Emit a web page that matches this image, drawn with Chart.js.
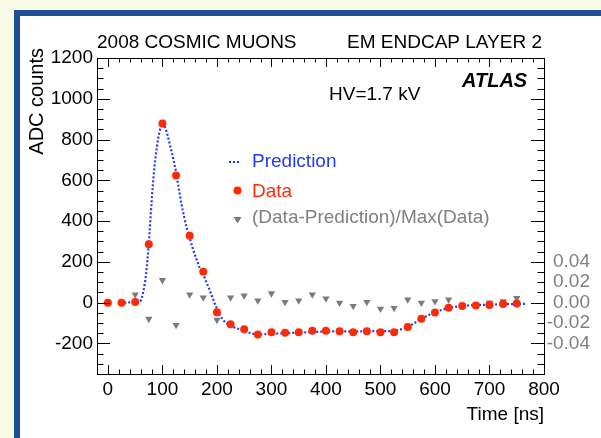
<!DOCTYPE html>
<html>
<head>
<meta charset="utf-8">
<script src="https://cdn.jsdelivr.net/npm/chart.js@4/dist/chart.umd.min.js"></script>
<style>
  html, body { margin: 0; padding: 0; width: 601px; height: 438px; overflow: hidden; background: #fafbe6; }
  #frame { position: absolute; left: 14px; top: 10px; width: 640px; height: 480px; border: 6px solid #1f4e98; background: #fff; }
  #c { position: absolute; left: 0; top: 0; }
</style>
</head>
<body>
<div id="frame"></div>
<canvas id="c" width="601" height="438"></canvas>
<script>
// measured points, every 25 ns
const dataTime = [0, 25, 50, 75, 100, 125, 150, 175, 200, 225, 250, 275, 300, 325, 350, 375,
                  400, 425, 450, 475, 500, 525, 550, 575, 600, 625, 650, 675, 700, 725, 750];
const dataAdc = [0, 0, 3, 287, 879, 624, 328, 151, -47, -106, -131, -156, -145, -148, -145, -138,
                 -138, -140, -145, -140, -145, -145, -119, -79, -48, -25, -17, -14, -11, -7, -4];
// (Data-Prediction)/Max(Data), right axis
const residual = [null, null, 0.008, -0.016, 0.022, -0.022, 0.008, 0.005, -0.017, 0.005, 0.007, 0.002, 0.009, 0.0005, 0.002, 0.008,
                  0.004, -0.0002, -0.0034, 0.0005, -0.006, -0.0054, 0.003, -0.0002, 0.0012, 0.003, -0.0027, -0.0027, 0, 0.0012, 0.0044];
// prediction curve
const predTime = [30, 40, 50, 55, 60, 65, 70, 75, 80, 85, 90, 95, 100, 105, 110, 115, 120, 125, 130, 135, 140,
                  145, 150, 155, 160, 165, 170, 175, 180, 185, 190, 195, 200, 205, 210, 215, 220, 225, 237.5, 250,
                  262.5, 275, 287.5, 300, 325, 350, 375, 400, 425, 450, 475, 500, 525, 537.5, 550, 562.5, 575,
                  587.5, 600, 612.5, 625, 650, 675, 700, 725, 750, 768];
const predAdc = [0, 1, 2, 4, 9, 55, 140, 290, 490, 655, 765, 842, 868, 858, 815, 760, 705, 640, 560, 482, 420,
                 362, 318, 272, 232, 195, 160, 138, 105, 72, 38, 2, -30, -58, -80, -95, -105, -112, -127, -138,
                 -150, -156, -155, -153, -150, -147, -144, -142, -141, -141, -140, -140, -138, -131, -120, -100, -80,
                 -62, -48, -36, -27, -16, -12, -10, -8, -7, -6];

const xTicks = [0, 100, 200, 300, 400, 500, 600, 700, 800];
const yTicks = [-200, 0, 200, 400, 600, 800, 1000, 1200];
const rTicks = [-0.04, -0.02, 0, 0.02, 0.04];

const blue = '#1f3cf5', red = '#ff2a05', gray = '#7b7b7b';
const FONT = 'Liberation Sans, Arial, Helvetica, sans-serif';
const yMin = -350, yMax = 1200, ratio = 5000; // right axis = ADC / 5000

const rootStyle = {
  id: 'rootStyle',
  afterDatasetsDraw(chart) {
    const ctx = chart.ctx, a = chart.chartArea;
    const xs = chart.scales.x, ys = chart.scales.y;
    ctx.save();
    ctx.strokeStyle = '#000';
    ctx.lineWidth = 1;
    // frame
    ctx.strokeRect(Math.round(a.left) + 0.5, Math.round(a.top) + 0.5, Math.round(a.right - a.left), Math.round(a.bottom - a.top));
    ctx.beginPath();
    // x ticks, bottom and top, pointing inward
    for (let t = -20; t <= 800; t += 20) {
      const px = Math.round(xs.getPixelForValue(t)) + 0.5;
      const len = t % 100 === 0 ? 9 : 4.5;
      ctx.moveTo(px, a.bottom); ctx.lineTo(px, a.bottom - len);
      ctx.moveTo(px, a.top); ctx.lineTo(px, a.top + len);
    }
    // y ticks, left and right
    for (let v = -350; v <= 1200; v += 50) {
      const py = Math.round(ys.getPixelForValue(v)) + 0.5;
      const len = v % 200 === 0 ? 13 : 6.5;
      ctx.moveTo(a.left, py); ctx.lineTo(a.left + len, py);
      ctx.moveTo(a.right, py); ctx.lineTo(a.right - len, py);
    }
    ctx.stroke();

    // texts
    ctx.fillStyle = '#000';
    ctx.textBaseline = 'alphabetic';
    ctx.font = '19px ' + FONT;
    ctx.textAlign = 'left';
    ctx.fillText('2008 COSMIC MUONS', 97, 48);
    ctx.textAlign = 'right';
    ctx.fillText('EM ENDCAP LAYER 2', 542, 48);
    ctx.fillText('Time [ns]', 544, 420);
    ctx.textAlign = 'left';
    ctx.fillText('HV=1.7 kV', 329, 100);
    ctx.font = 'italic bold 20px ' + FONT;
    ctx.fillText('ATLAS', 462, 87);

    ctx.save();
    ctx.translate(42.5, 48);
    ctx.rotate(-Math.PI / 2);
    ctx.textAlign = 'right';
    ctx.font = '20px ' + FONT;
    ctx.fillText('ADC counts', 0, 0);
    ctx.restore();

    // legend
    ctx.font = '19px ' + FONT;
    ctx.textAlign = 'left';
    ctx.strokeStyle = blue;
    ctx.lineWidth = 2;
    ctx.setLineDash([2, 2]);
    ctx.beginPath(); ctx.moveTo(229, 162); ctx.lineTo(241, 162); ctx.stroke();
    ctx.setLineDash([]);
    ctx.fillStyle = blue;
    ctx.fillText('Prediction', 252, 167);

    ctx.fillStyle = red;
    ctx.beginPath(); ctx.arc(237.5, 190.5, 4, 0, Math.PI * 2); ctx.fill();
    ctx.fillText('Data', 252, 197);

    ctx.fillStyle = gray;
    ctx.beginPath(); ctx.moveTo(233.5, 217); ctx.lineTo(241.5, 217); ctx.lineTo(237.5, 223.5); ctx.closePath(); ctx.fill();
    ctx.fillStyle = '#808080';
    ctx.fillText('(Data-Prediction)/Max(Data)', 252, 223);
    ctx.restore();
  }
};

new Chart(document.getElementById('c'), {
  type: 'scatter',
  data: {
    datasets: [
      {
        label: 'Data',
        data: dataTime.map((t, i) => ({ x: t, y: dataAdc[i] })),
        backgroundColor: red,
        borderWidth: 0,
        pointRadius: 4,
        yAxisID: 'y',
        order: 0
      },
      {
        label: '(Data-Prediction)/Max(Data)',
        data: dataTime.map((t, i) => ({ x: t, y: residual[i] })),
        backgroundColor: gray,
        borderWidth: 0,
        pointStyle: 'triangle',
        rotation: 180,
        pointRadius: 4.2,
        yAxisID: 'y1',
        order: 1
      },
      {
        label: 'Prediction',
        type: 'line',
        data: predTime.map((t, i) => ({ x: t, y: predAdc[i] })),
        borderColor: blue,
        borderWidth: 2.2,
        borderDash: [2, 2],
        pointRadius: 0,
        fill: false,
        cubicInterpolationMode: 'monotone',
        yAxisID: 'y',
        order: 2
      }
    ]
  },
  options: {
    responsive: false,
    animation: false,
    layout: { padding: { top: 58, left: 0, right: 11, bottom: 0 } },
    plugins: { legend: { display: false }, tooltip: { enabled: false } },
    scales: {
      x: {
        type: 'linear', min: -20, max: 800,
        afterBuildTicks: s => { s.ticks = xTicks.map(v => ({ value: v })); },
        afterFit: s => { s.height = 64; },
        grid: { display: false, drawTicks: false },
        border: { display: false },
        ticks: { color: '#000', font: { family: FONT, size: 19 }, padding: 4, maxRotation: 0, autoSkip: false,
                 callback: v => String(v) }
      },
      y: {
        type: 'linear', position: 'left', min: yMin, max: yMax,
        afterBuildTicks: s => { s.ticks = yTicks.map(v => ({ value: v })); },
        afterFit: s => { s.width = 97; },
        grid: { display: false, drawTicks: false },
        border: { display: false },
        ticks: { color: '#000', font: { family: FONT, size: 19 }, padding: 4, autoSkip: false,
                 callback: v => String(v) }
      },
      y1: {
        type: 'linear', position: 'right', min: yMin / ratio, max: yMax / ratio,
        afterBuildTicks: s => { s.ticks = rTicks.map(v => ({ value: v })); },
        afterFit: s => { s.width = 46; },
        grid: { display: false, drawTicks: false },
        border: { display: false },
        ticks: {
          color: '#808080', font: { family: FONT, size: 19 }, padding: 3, crossAlign: 'far', autoSkip: false,
          callback: v => v.toFixed(2)
        }
      }
    }
  },
  plugins: [rootStyle]
});
</script>
</body>
</html>
